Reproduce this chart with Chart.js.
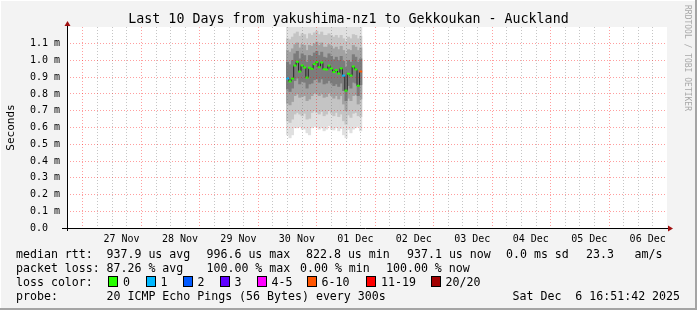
<!DOCTYPE html>
<html>
<head>
<meta charset="utf-8">
<script src="https://cdn.jsdelivr.net/npm/chart.js@4.4.1/dist/chart.umd.min.js"></script>
<style>
  html, body { margin: 0; padding: 0; background: #f3f3f3; }
  #wrap {
    position: relative; width: 697px; height: 310px; overflow: hidden;
    background: #f3f3f3;
    box-shadow: inset -2px -2px 0 #a4a4a4, inset 1px 1px 0 #ffffff;
    font-family: "DejaVu Sans Mono", monospace; color: #000;
  }
  canvas { position: absolute; left: 0; top: 0; }
  .t { position: absolute; white-space: pre; font-size: 11.6px; line-height: 14px; }
  .title { position: absolute; left: 0; width: 697px; top: 11px; text-align: center; white-space: pre; font-size: 13.3px; line-height: 15px; }
  .box { position: absolute; width: 8px; height: 9px; border: 1px solid #000; }
  .wm { position: absolute; left: 683px; top: 5px; writing-mode: vertical-rl; font-size: 8px; color: #a8a8a8; white-space: pre; }
</style>
</head>
<body>
<div id="wrap">
  <canvas id="c" width="697" height="310"></canvas>
  <div class="title">Last 10 Days from yakushima-nz1 to Gekkoukan - Auckland</div>
  <div class="wm">RRDTOOL / TOBI OETIKER</div>
  <div id="legend"></div>
</div>
<script>
// x axis: hours since 27 Nov 00:00
const dayLabels = ['27 Nov', '28 Nov', '29 Nov', '30 Nov', '01 Dec', '02 Dec', '03 Dec', '04 Dec', '05 Dec', '06 Dec'];
const yTickValues = [0, 0.1, 0.2, 0.3, 0.4, 0.5, 0.6, 0.7, 0.8, 0.9, 1.0, 1.1];

// one column per hour, 30 Nov 09:00 .. 01 Dec 15:00
const colHours = [81, 82, 83, 84, 85, 86, 87, 88, 89, 90, 91, 92, 93, 94, 95, 96, 97, 98, 99, 100, 101, 102, 103, 104, 105, 106, 107, 108, 109, 110, 111];

// median rtt (ms)
const median = [0.893, 0.875, 0.892, 0.970, 0.992, 0.934, 0.970, 0.958, 0.898, 0.957, 0.950, 0.978, 0.990, 0.960, 0.988, 0.948, 0.946, 0.969, 0.952, 0.931, 0.943, 0.922, 0.953, 0.910, 0.820, 0.921, 0.910, 0.964, 0.947, 0.849, 0.934];
// lost pings out of 20
const lossCount = [1, 0, 0, 0, 0, 0, 0, 0, 0, 0, 0, 0, 0, 0, 0, 0, 0, 0, 0, 0, 0, 0, 0, 1, 0, 0, 0, 0, 0, 0, 7];

// smoke bands (ms), outer -> inner
const lo1 = [0.556, 0.538, 0.556, 0.598, 0.598, 0.604, 0.590, 0.590, 0.568, 0.556, 0.598, 0.606, 0.602, 0.590, 0.598, 0.580, 0.590, 0.610, 0.590, 0.585, 0.598, 0.580, 0.594, 0.556, 0.538, 0.588, 0.568, 0.590, 0.598, 0.606, 0.580];
const hi1 = [1.26, 1.25, 1.27, 1.29, 1.30, 1.27, 1.29, 1.28, 1.26, 1.28, 1.27, 1.29, 1.30, 1.28, 1.30, 1.27, 1.27, 1.29, 1.28, 1.26, 1.27, 1.26, 1.28, 1.25, 1.24, 1.26, 1.25, 1.28, 1.27, 1.25, 1.27];
const lo2 = [0.640, 0.630, 0.650, 0.680, 0.690, 0.680, 0.670, 0.685, 0.650, 0.655, 0.690, 0.700, 0.690, 0.680, 0.695, 0.670, 0.680, 0.700, 0.685, 0.670, 0.690, 0.665, 0.680, 0.640, 0.620, 0.675, 0.660, 0.685, 0.690, 0.670, 0.665];
const hi2 = [1.130, 1.125, 1.140, 1.160, 1.170, 1.145, 1.160, 1.155, 1.130, 1.160, 1.150, 1.165, 1.175, 1.155, 1.170, 1.150, 1.150, 1.160, 1.150, 1.140, 1.150, 1.135, 1.150, 1.130, 1.115, 1.140, 1.130, 1.155, 1.150, 1.130, 1.145];
const lo3 = [0.745, 0.735, 0.755, 0.790, 0.800, 0.780, 0.785, 0.790, 0.760, 0.770, 0.790, 0.805, 0.800, 0.790, 0.800, 0.780, 0.785, 0.805, 0.790, 0.775, 0.790, 0.770, 0.790, 0.740, 0.700, 0.775, 0.760, 0.790, 0.795, 0.740, 0.770];
const hi3 = [1.060, 1.050, 1.070, 1.095, 1.105, 1.075, 1.095, 1.090, 1.060, 1.090, 1.085, 1.100, 1.110, 1.090, 1.105, 1.080, 1.080, 1.095, 1.085, 1.070, 1.080, 1.065, 1.085, 1.060, 1.040, 1.065, 1.060, 1.090, 1.080, 1.060, 1.075];
const lo4 = [0.830, 0.815, 0.835, 0.880, 0.895, 0.860, 0.875, 0.870, 0.835, 0.860, 0.865, 0.885, 0.890, 0.870, 0.890, 0.860, 0.865, 0.880, 0.865, 0.850, 0.860, 0.845, 0.865, 0.820, 0.760, 0.850, 0.835, 0.870, 0.865, 0.790, 0.855];
const hi4 = [0.990, 0.975, 1.000, 1.040, 1.055, 1.010, 1.040, 1.030, 0.990, 1.030, 1.025, 1.045, 1.055, 1.030, 1.050, 1.020, 1.015, 1.040, 1.025, 1.005, 1.020, 1.000, 1.025, 0.995, 0.960, 1.000, 0.990, 1.035, 1.020, 0.990, 1.010];

const lossBinLabels = ['0', '1', '2', '3', '4-5', '6-10', '11-19', '20/20'];
const lossBinMax = [0, 1, 2, 3, 5, 10, 19, 20];
const lossBinColors = ['#26ff00', '#00b8ff', '#0059ff', '#5e00ff', '#ff00ff', '#ff5500', '#ff0000', '#a10000'];

const statLines = [
  [['median rtt:', 16], ['937.9 us avg', 106.5], ['996.6 us max', 206.5], ['822.8 us min', 306], ['937.1 us now', 407], ['0.0 ms sd', 506], ['23.3', 586], ['am/s', 634.5]],
  [['packet loss:', 16], ['87.26 % avg', 106.5], ['100.00 % max', 206.5], ['0.00 % min', 300], ['100.00 % now', 386]],
  [['loss color:', 16]],
  [['probe:', 16], ['20 ICMP Echo Pings (56 Bytes) every 300s', 106.5], ['Sat Dec  6 16:51:42 2025', 512.5]]
];
const swatchX = [108, 145.5, 182.5, 219.5, 256.5, 306.5, 366, 430.5];

// legend text
const legend = document.getElementById('legend');
statLines.forEach((line, li) => {
  line.forEach(([txt, x]) => {
    const d = document.createElement('div');
    d.className = 't';
    d.style.left = x + 'px';
    d.style.top = (247 + li * 14) + 'px';
    d.textContent = txt;
    legend.appendChild(d);
  });
});
lossBinLabels.forEach((lab, i) => {
  const b = document.createElement('div');
  b.className = 'box';
  b.style.left = swatchX[i] + 'px';
  b.style.top = '276px';
  b.style.background = lossBinColors[i];
  legend.appendChild(b);
  const d = document.createElement('div');
  d.className = 't';
  d.style.left = (swatchX[i] + 15) + 'px';
  d.style.top = '275px';
  d.textContent = lab;
  legend.appendChild(d);
});

function lossColor(n) {
  for (let i = 0; i < lossBinMax.length; i++) if (n <= lossBinMax[i]) return lossBinColors[i];
  return lossBinColors[lossBinColors.length - 1];
}

const RED_GRID = 'rgba(255,0,0,0.38)';
const GRAY_GRID = 'rgba(110,110,110,0.4)';
const MONO = 'DejaVu Sans Mono';

const band = (lo, hi, color, order) => ({
  type: 'bar',
  data: colHours.map((h, i) => ({ x: h, y: [lo[i], hi[i]] })),
  backgroundColor: color,
  borderWidth: 0,
  grouped: false,
  barPercentage: 1,
  categoryPercentage: 1,
  order: order
});

// 6-hour grid, red at midnight
const gridHours = [];
for (let h = 0; h <= 228; h += 6) gridHours.push(h);

const plotBg = {
  id: 'plotBg',
  beforeDraw(chart) {
    const { ctx, chartArea: a } = chart;
    ctx.save();
    ctx.fillStyle = '#ffffff';
    ctx.fillRect(a.left, a.top, a.right - a.left, a.bottom - a.top);
    ctx.restore();
  }
};

const axesArrows = {
  id: 'axesArrows',
  afterDraw(chart) {
    const { ctx, chartArea: a } = chart;
    const y0 = Math.round(a.bottom) + 0.5;
    const x0 = Math.round(a.left) + 0.5;
    ctx.save();
    ctx.strokeStyle = '#000';
    ctx.lineWidth = 1;
    ctx.beginPath();
    ctx.moveTo(a.left - 5, y0); ctx.lineTo(a.right + 2, y0);
    ctx.moveTo(x0, a.bottom + 3); ctx.lineTo(x0, a.top - 1);
    ctx.stroke();
    ctx.fillStyle = '#a01010';
    ctx.beginPath();
    ctx.moveTo(a.right + 1, y0 - 3); ctx.lineTo(a.right + 6, y0); ctx.lineTo(a.right + 1, y0 + 3); ctx.closePath();
    ctx.fill();
    ctx.beginPath();
    ctx.moveTo(x0 - 3, a.top - 1); ctx.lineTo(x0, a.top - 6); ctx.lineTo(x0 + 3, a.top - 1); ctx.closePath();
    ctx.fill();
    ctx.restore();
  }
};

new Chart(document.getElementById('c'), {
  type: 'bar',
  data: {
    datasets: [
      {
        type: 'line',
        data: colHours.map((h, i) => ({ x: h, y: median[i] })),
        stepped: 'middle',
        borderColor: '#262626',
        borderWidth: 1,
        pointStyle: 'line',
        pointRadius: 1.5,
        pointBorderWidth: 2,
        pointBorderColor: lossCount.map(lossColor),
        order: 0
      },
      band(lo4, hi4, '#7c7c7c', 1),
      band(lo3, hi3, '#a2a2a2', 2),
      band(lo2, hi2, '#c4c4c4', 3),
      band(lo1, hi1, '#e0e0e0', 4)
    ]
  },
  options: {
    responsive: false,
    animation: false,
    layout: { padding: { left: 0, right: 30, top: 27, bottom: 62 } },
    plugins: { legend: { display: false }, tooltip: { enabled: false } },
    scales: {
      x: {
        type: 'linear',
        min: -6.4,
        max: 233.6,
        afterBuildTicks: s => { s.ticks = gridHours.map(v => ({ value: v })); },
        afterFit: s => { s.height = 20; },
        ticks: {
          autoSkip: false,
          maxRotation: 0,
          minRotation: 0,
          padding: 5,
          labelOffset: 2,
          color: '#000',
          font: { family: MONO, size: 10 },
          callback: v => (v % 24 === 12 ? dayLabels[(v - 12) / 24] : '')
        },
        grid: {
          z: 1,
          drawTicks: false,
          color: c => (c.tick && c.tick.value % 24 === 0 ? RED_GRID : GRAY_GRID)
        },
        border: { display: false, dash: [1, 2] }
      },
      y: {
        min: 0,
        max: 1.2,
        afterBuildTicks: s => { s.ticks = yTickValues.map(v => ({ value: v })); },
        afterFit: s => { s.width = 67; },
        ticks: {
          padding: 7,
          color: '#000',
          font: { family: MONO, size: 10 },
          callback: v => (v === 0 ? '0.0  ' : v.toFixed(1) + ' m')
        },
        grid: { z: 1, drawTicks: false, color: RED_GRID },
        border: { display: false, dash: [1, 2] },
        title: {
          display: true,
          text: 'Seconds',
          color: '#000',
          font: { family: MONO, size: 11 },
          padding: { top: 5, bottom: 0 }
        }
      }
    }
  },
  plugins: [plotBg, axesArrows]
});
</script>
</body>
</html>
